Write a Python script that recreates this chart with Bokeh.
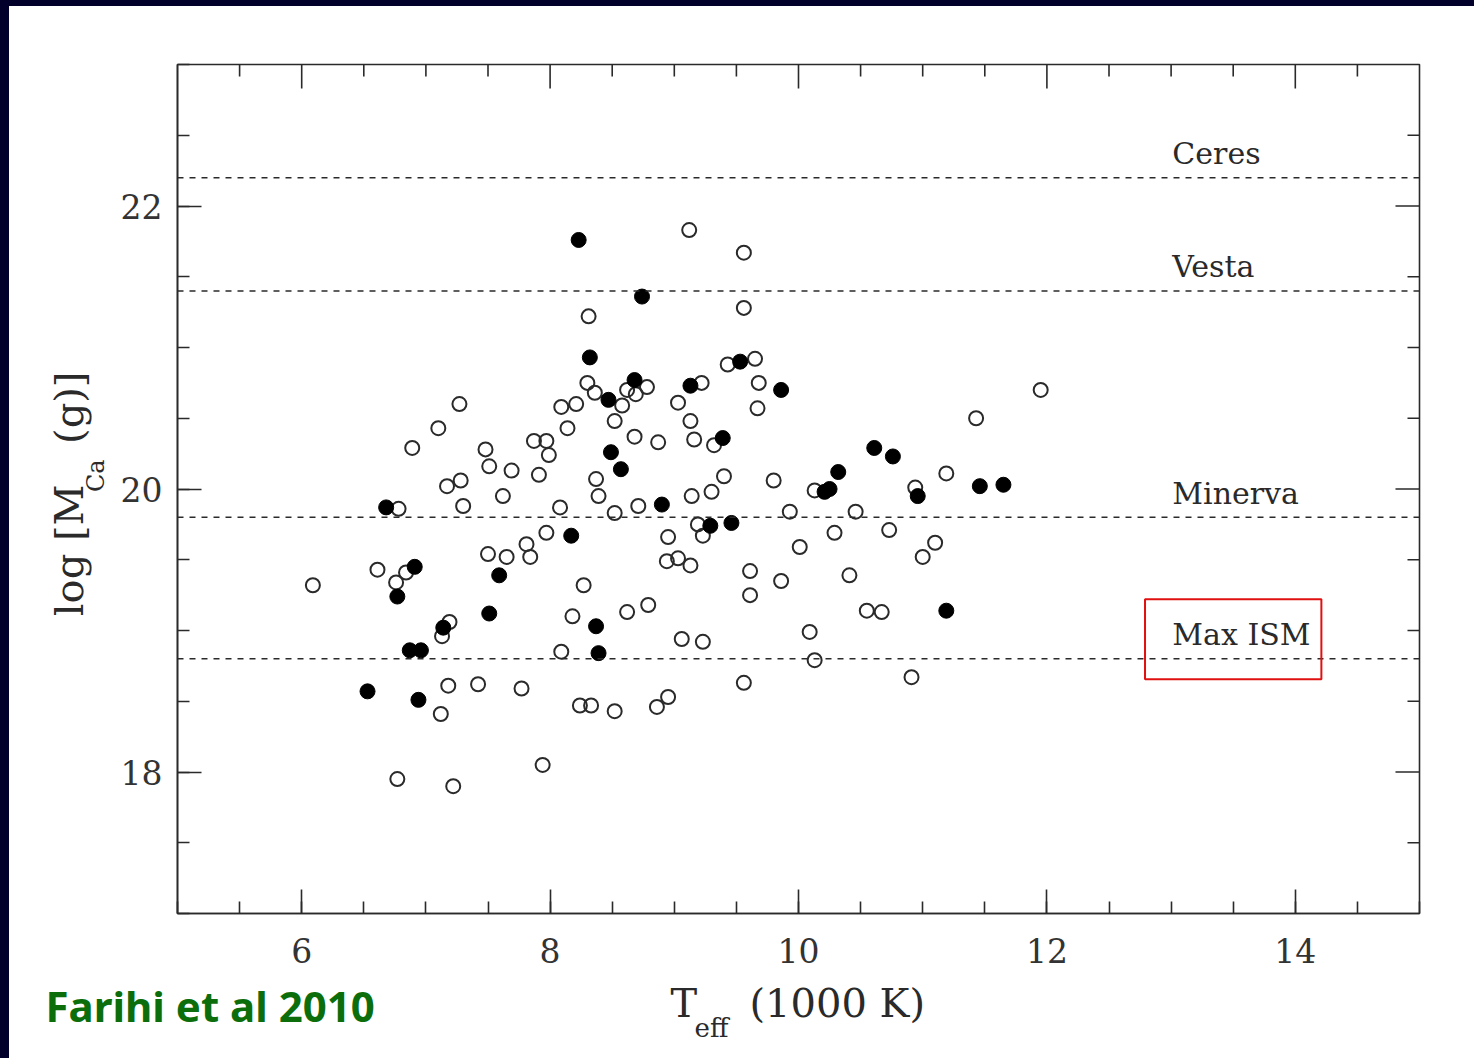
import math

from bokeh.core.properties import value
from bokeh.embed import file_html
from bokeh.layouts import column, row
from bokeh.models import (BoxAnnotation, ColumnDataSource, LinearAxis,
                          SingleIntervalTicker, Spacer, Span)
from bokeh.plotting import figure
from bokeh.resources import INLINE

# Calcium mass in the convection zone vs effective temperature
filled_teff = [6.68, 6.91, 6.77, 7.59, 7.51, 7.14, 6.87, 6.96, 6.53, 6.94,
               8.23, 8.74, 8.32, 9.53, 8.68, 9.13, 9.86, 8.47, 9.39, 8.49,
               8.57, 8.90, 8.17, 9.29, 9.46, 8.37, 8.39, 10.61, 10.76, 10.32,
               10.21, 10.25, 10.96, 11.46, 11.65, 11.19]
filled_logm = [19.87, 19.45, 19.24, 19.39, 19.12, 19.02, 18.86, 18.86, 18.57, 18.51,
               21.76, 21.36, 20.93, 20.90, 20.77, 20.73, 20.70, 20.63, 20.36, 20.26,
               20.14, 19.89, 19.67, 19.74, 19.76, 19.03, 18.84, 20.29, 20.23, 20.12,
               19.98, 20.00, 19.95, 20.02, 20.03, 19.14]

open_teff = [6.09, 6.61, 6.84, 6.76, 6.78, 7.30, 7.62, 7.97, 7.81, 7.84,
             7.50, 7.65, 7.19, 7.13, 7.18, 7.42, 7.77, 7.12, 7.94, 6.77,
             7.22, 7.27, 7.10, 6.89, 7.48, 7.51, 7.69, 7.87, 7.97, 7.99,
             7.91, 7.28, 7.17, 9.12, 9.56, 9.56, 8.31, 9.43, 9.65, 8.78,
             8.62, 8.69, 9.22, 9.68, 9.67, 8.30, 8.36, 8.58, 8.52, 8.09,
             8.21, 8.14, 9.03, 9.13, 8.68, 8.87, 9.16, 9.32, 8.37, 8.39,
             8.08, 8.52, 8.71, 9.14, 9.30, 9.40, 9.80, 9.93, 11.95, 11.43,
             11.19, 10.13, 10.94, 10.46, 8.95, 9.19, 9.23, 10.01, 8.94, 9.03,
             9.13, 9.61, 9.61, 9.86, 8.27, 8.18, 8.62, 8.79, 9.06, 9.23,
             8.09, 9.56, 8.24, 8.33, 8.52, 8.86, 8.95, 10.29, 10.73, 11.10,
             11.00, 10.41, 10.55, 10.67, 10.09, 10.13, 10.91]
open_logm = [19.32, 19.43, 19.41, 19.34, 19.86, 19.88, 19.95, 19.69, 19.61, 19.52,
             19.54, 19.52, 19.06, 18.96, 18.61, 18.62, 18.59, 18.41, 18.05, 17.95,
             17.90, 20.60, 20.43, 20.29, 20.28, 20.16, 20.13, 20.34, 20.34, 20.24,
             20.10, 20.06, 20.02, 21.83, 21.67, 21.28, 21.22, 20.88, 20.92, 20.72,
             20.70, 20.67, 20.75, 20.75, 20.57, 20.75, 20.68, 20.59, 20.48, 20.58,
             20.60, 20.43, 20.61, 20.48, 20.37, 20.33, 20.35, 20.31, 20.07, 19.95,
             19.87, 19.83, 19.88, 19.95, 19.98, 20.09, 20.06, 19.84, 20.70, 20.50,
             20.11, 19.99, 20.01, 19.84, 19.66, 19.75, 19.67, 19.59, 19.49, 19.51,
             19.46, 19.42, 19.25, 19.35, 19.32, 19.10, 19.13, 19.18, 18.94, 18.92,
             18.85, 18.63, 18.47, 18.47, 18.43, 18.46, 18.53, 19.69, 19.71, 19.62,
             19.52, 19.39, 19.14, 19.13, 18.99, 18.79, 18.67]

# Reference masses (log grams)
body_names = ["Ceres", "Vesta", "Minerva", "Max ISM"]
body_logm = [22.2, 21.4, 19.8, 18.8]

# Tick marks mirrored on the top and right edges
x_major_ticks = [6, 8, 10, 12, 14]
x_minor_ticks = [5.5, 6.5, 7, 7.5, 8.5, 9, 9.5, 10.5, 11, 11.5, 12.5, 13, 13.5, 14.5]
y_major_ticks = [18, 20, 22]
y_minor_ticks = [17.5, 18.5, 19, 19.5, 20.5, 21, 21.5, 22.5]

INK = "#2a2a2a"
SERIF = "DejaVu Serif"
NAVY = "#00002b"
X0, X1, Y0, Y1 = 5, 15, 17, 23

MAIN_W, MAIN_H = 1365, 971
YLAB_W = 100
XLAB_H = 81

p = figure(width=MAIN_W, height=MAIN_H, x_range=(X0, X1), y_range=(Y0, Y1),
           output_backend="svg", toolbar_location=None,
           min_border_left=68, min_border_right=55,
           min_border_top=58, min_border_bottom=64,
           x_axis_type=None, y_axis_type=None)
p.grid.visible = False
p.outline_line_color = INK
p.outline_line_width = 1.6
p.background_fill_color = "white"
p.border_fill_color = "white"


def make_axis(standoff):
    ax = LinearAxis(ticker=SingleIntervalTicker(interval=2, num_minor_ticks=4))
    ax.axis_line_color = INK
    ax.axis_line_width = 1.6
    ax.major_tick_line_color = INK
    ax.major_tick_line_width = 1.6
    ax.minor_tick_line_color = INK
    ax.minor_tick_line_width = 1.6
    ax.major_tick_in = 24
    ax.major_tick_out = 0
    ax.minor_tick_in = 12
    ax.minor_tick_out = 0
    ax.major_label_text_font = SERIF
    ax.major_label_text_font_size = "33px"
    ax.major_label_text_color = "#333333"
    ax.major_label_standoff = standoff
    return ax


p.add_layout(make_axis(24), "below")
p.add_layout(make_axis(15), "left")

# inward ticks on the top and right frame edges
tick_style = dict(line_color=INK, line_width=1.6, length_units="screen")
p.ray(x=x_major_ticks, y=Y1, length=24, angle=-math.pi / 2, **tick_style)
p.ray(x=x_minor_ticks, y=Y1, length=12, angle=-math.pi / 2, **tick_style)
p.ray(x=X1, y=y_major_ticks, length=24, angle=math.pi, **tick_style)
p.ray(x=X1, y=y_minor_ticks, length=12, angle=math.pi, **tick_style)

# Reference mass levels
for m in body_logm:
    p.add_layout(Span(location=m, dimension="width", line_color=INK,
                      line_width=1.5, line_dash="6 6"))

body_src = ColumnDataSource(data=dict(x=[13.01] * len(body_names), y=body_logm,
                                      name=body_names))
p.text(x="x", y="y", text="name", source=body_src, y_offset=-24,
       text_font=value(SERIF), text_font_size="30px", text_color=INK,
       text_align="left", text_baseline="alphabetic")

p.add_layout(BoxAnnotation(left=12.79, right=14.21, bottom=18.655, top=19.22,
                           fill_alpha=0, line_color="#e01010", line_alpha=1,
                           line_width=2))

# Stars
p.scatter(open_teff, open_logm, marker="circle", size=14,
          fill_alpha=0, line_color=INK, line_width=2)
p.scatter(filled_teff, filled_logm, marker="circle", size=15,
          fill_color="black", line_color="black", line_width=1)


def text_panel(width, height):
    f = figure(width=width, height=height, x_range=(0, width), y_range=(0, height),
               output_backend="svg", toolbar_location=None,
               min_border=0, x_axis_type=None, y_axis_type=None)
    f.grid.visible = False
    f.outline_line_color = None
    f.background_fill_color = "white"
    f.border_fill_color = "white"
    return f


def put(f, text, x, y, size, angle=0.0, color=INK, font=SERIF, style="normal"):
    f.text(x=[x], y=[y], text=[text], angle=angle,
           text_font=value(font), text_font_size=size, text_color=color,
           text_font_style=style, text_align="left", text_baseline="alphabetic")


# vertical axis title: log [M_Ca (g)]
ylab = text_panel(YLAB_W, MAIN_H)
put(ylab, "log [M", 59, 340, "40px", angle=math.pi / 2)
put(ylab, "Ca", 86, 482, "24px", angle=math.pi / 2)
put(ylab, "(g)]", 59, 537, "40px", angle=math.pi / 2)

# horizontal axis title T_eff (1000 K) and citation
xlab = text_panel(YLAB_W + MAIN_W, XLAB_H)
put(xlab, "T", 661, 56, "40px")
put(xlab, "eff", 685, 31, "26px")
put(xlab, "(1000 K)", 740, 56, "40px")
put(xlab, "Farihi et al 2010", 36, 53, "42px", color="#0b6e0b",
    font="Noto Sans", style="bold")

top_band = Spacer(width=1474, height=6, styles={"background-color": NAVY})
left_band = Spacer(width=9, height=1052, styles={"background-color": NAVY})
chart = column(row(ylab, p, spacing=0), xlab, spacing=0)
page = column(top_band, row(left_band, chart, spacing=0), spacing=0)

open("out.html", "w").write(file_html(page, INLINE))
